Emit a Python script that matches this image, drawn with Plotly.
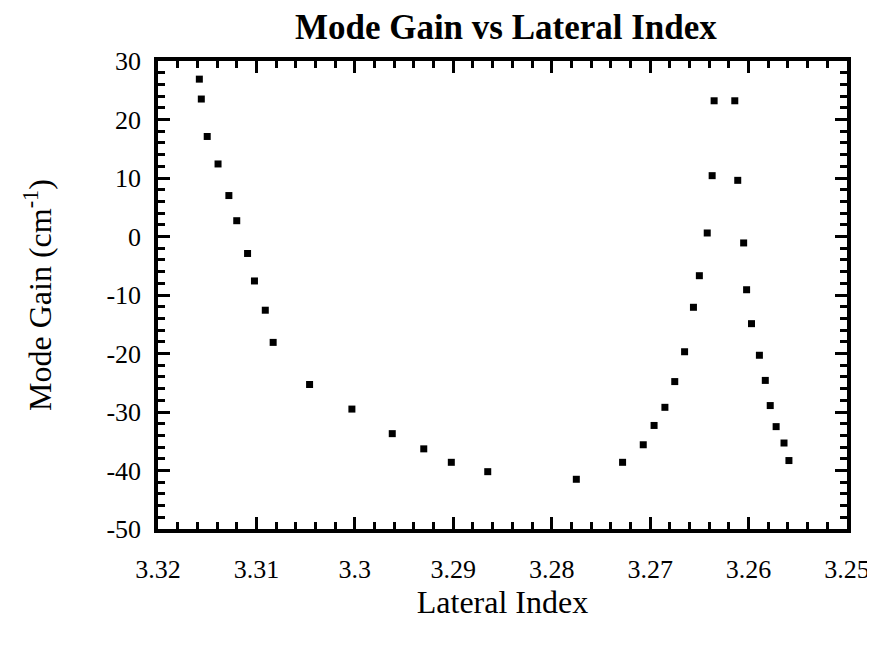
import plotly.graph_objects as go

# Lateral index (x) and mode gain (y, cm^-1)
left_index = [3.3158, 3.3156, 3.3150, 3.3139, 3.3128, 3.3120, 3.3109, 3.3102,
              3.3091, 3.3083, 3.3046, 3.3003, 3.2962, 3.2930, 3.2902, 3.2865, 3.2775]
left_gain = [26.9, 23.5, 17.1, 12.4, 7.0, 2.7, -2.9, -7.6,
             -12.6, -18.1, -25.3, -29.5, -33.7, -36.3, -38.6, -40.2, -41.5]

rise_index = [3.2728, 3.2707, 3.2696, 3.2685, 3.2675, 3.2665, 3.2656, 3.2650,
              3.2642, 3.2637, 3.2635]
rise_gain = [-38.6, -35.6, -32.3, -29.2, -24.8, -19.7, -12.1, -6.7,
             0.6, 10.4, 23.2]

fall_index = [3.2614, 3.2611, 3.2605, 3.2602, 3.2597, 3.2589, 3.2583, 3.2578,
              3.2572, 3.2564, 3.2559]
fall_gain = [23.2, 9.6, -1.1, -9.1, -14.9, -20.3, -24.6, -28.9,
             -32.5, -35.3, -38.3]

x_ticks = [3.32, 3.31, 3.30, 3.29, 3.28, 3.27, 3.26, 3.25]
x_labels = ["3.32", "3.31", "3.3", "3.29", "3.28", "3.27", "3.26", "3.25"]
y_ticks = [30, 20, 10, 0, -10, -20, -30, -40, -50]
y_labels = ["30", "20", "10", "0", "-10", "-20", "-30", "-40", "-50"]

x_all = left_index + rise_index + fall_index
y_all = left_gain + rise_gain + fall_gain

font_family = "Liberation Serif, Times New Roman, serif"

fig = go.Figure()
fig.add_trace(go.Scatter(
    x=x_all, y=y_all, mode="markers",
    marker=dict(symbol="square", size=7, color="black"),
    showlegend=False,
))

axis_common = dict(
    showline=True, linecolor="black", linewidth=3.5, mirror="allticks",
    ticks="inside", ticklen=12, tickwidth=2.5, tickcolor="black",
    showgrid=False, zeroline=False,
    tickfont=dict(family=font_family, size=26, color="black"),
)

fig.update_xaxes(
    range=[3.32, 3.25], tickvals=x_ticks, ticktext=x_labels,
    minor=dict(dtick=0.002, ticks="inside", ticklen=7, tickwidth=2.5, tickcolor="black"),
    title=dict(text="Lateral Index", font=dict(family=font_family, size=32, color="black"), standoff=2),
    ticklabelstandoff=14,
    **axis_common,
)
fig.update_yaxes(
    range=[-50, 30], tickvals=y_ticks, ticktext=y_labels,
    minor=dict(dtick=2, ticks="inside", ticklen=7, tickwidth=2.5, tickcolor="black"),
    title=dict(text="Mode Gain (cm<sup>-1</sup>)", font=dict(family=font_family, size=32, color="black"), standoff=46),
    ticklabelstandoff=8,
    **axis_common,
)

fig.update_layout(
    width=875, height=648,
    margin=dict(l=150, r=36, t=53, b=127),
    paper_bgcolor="white", plot_bgcolor="white",
    title=dict(text="<b>Mode Gain vs Lateral Index</b>", x=0.569, xanchor="center",
               y=0.99, yanchor="top",
               font=dict(family=font_family, size=35, color="black")),
)

fig.write_html("out.html")
